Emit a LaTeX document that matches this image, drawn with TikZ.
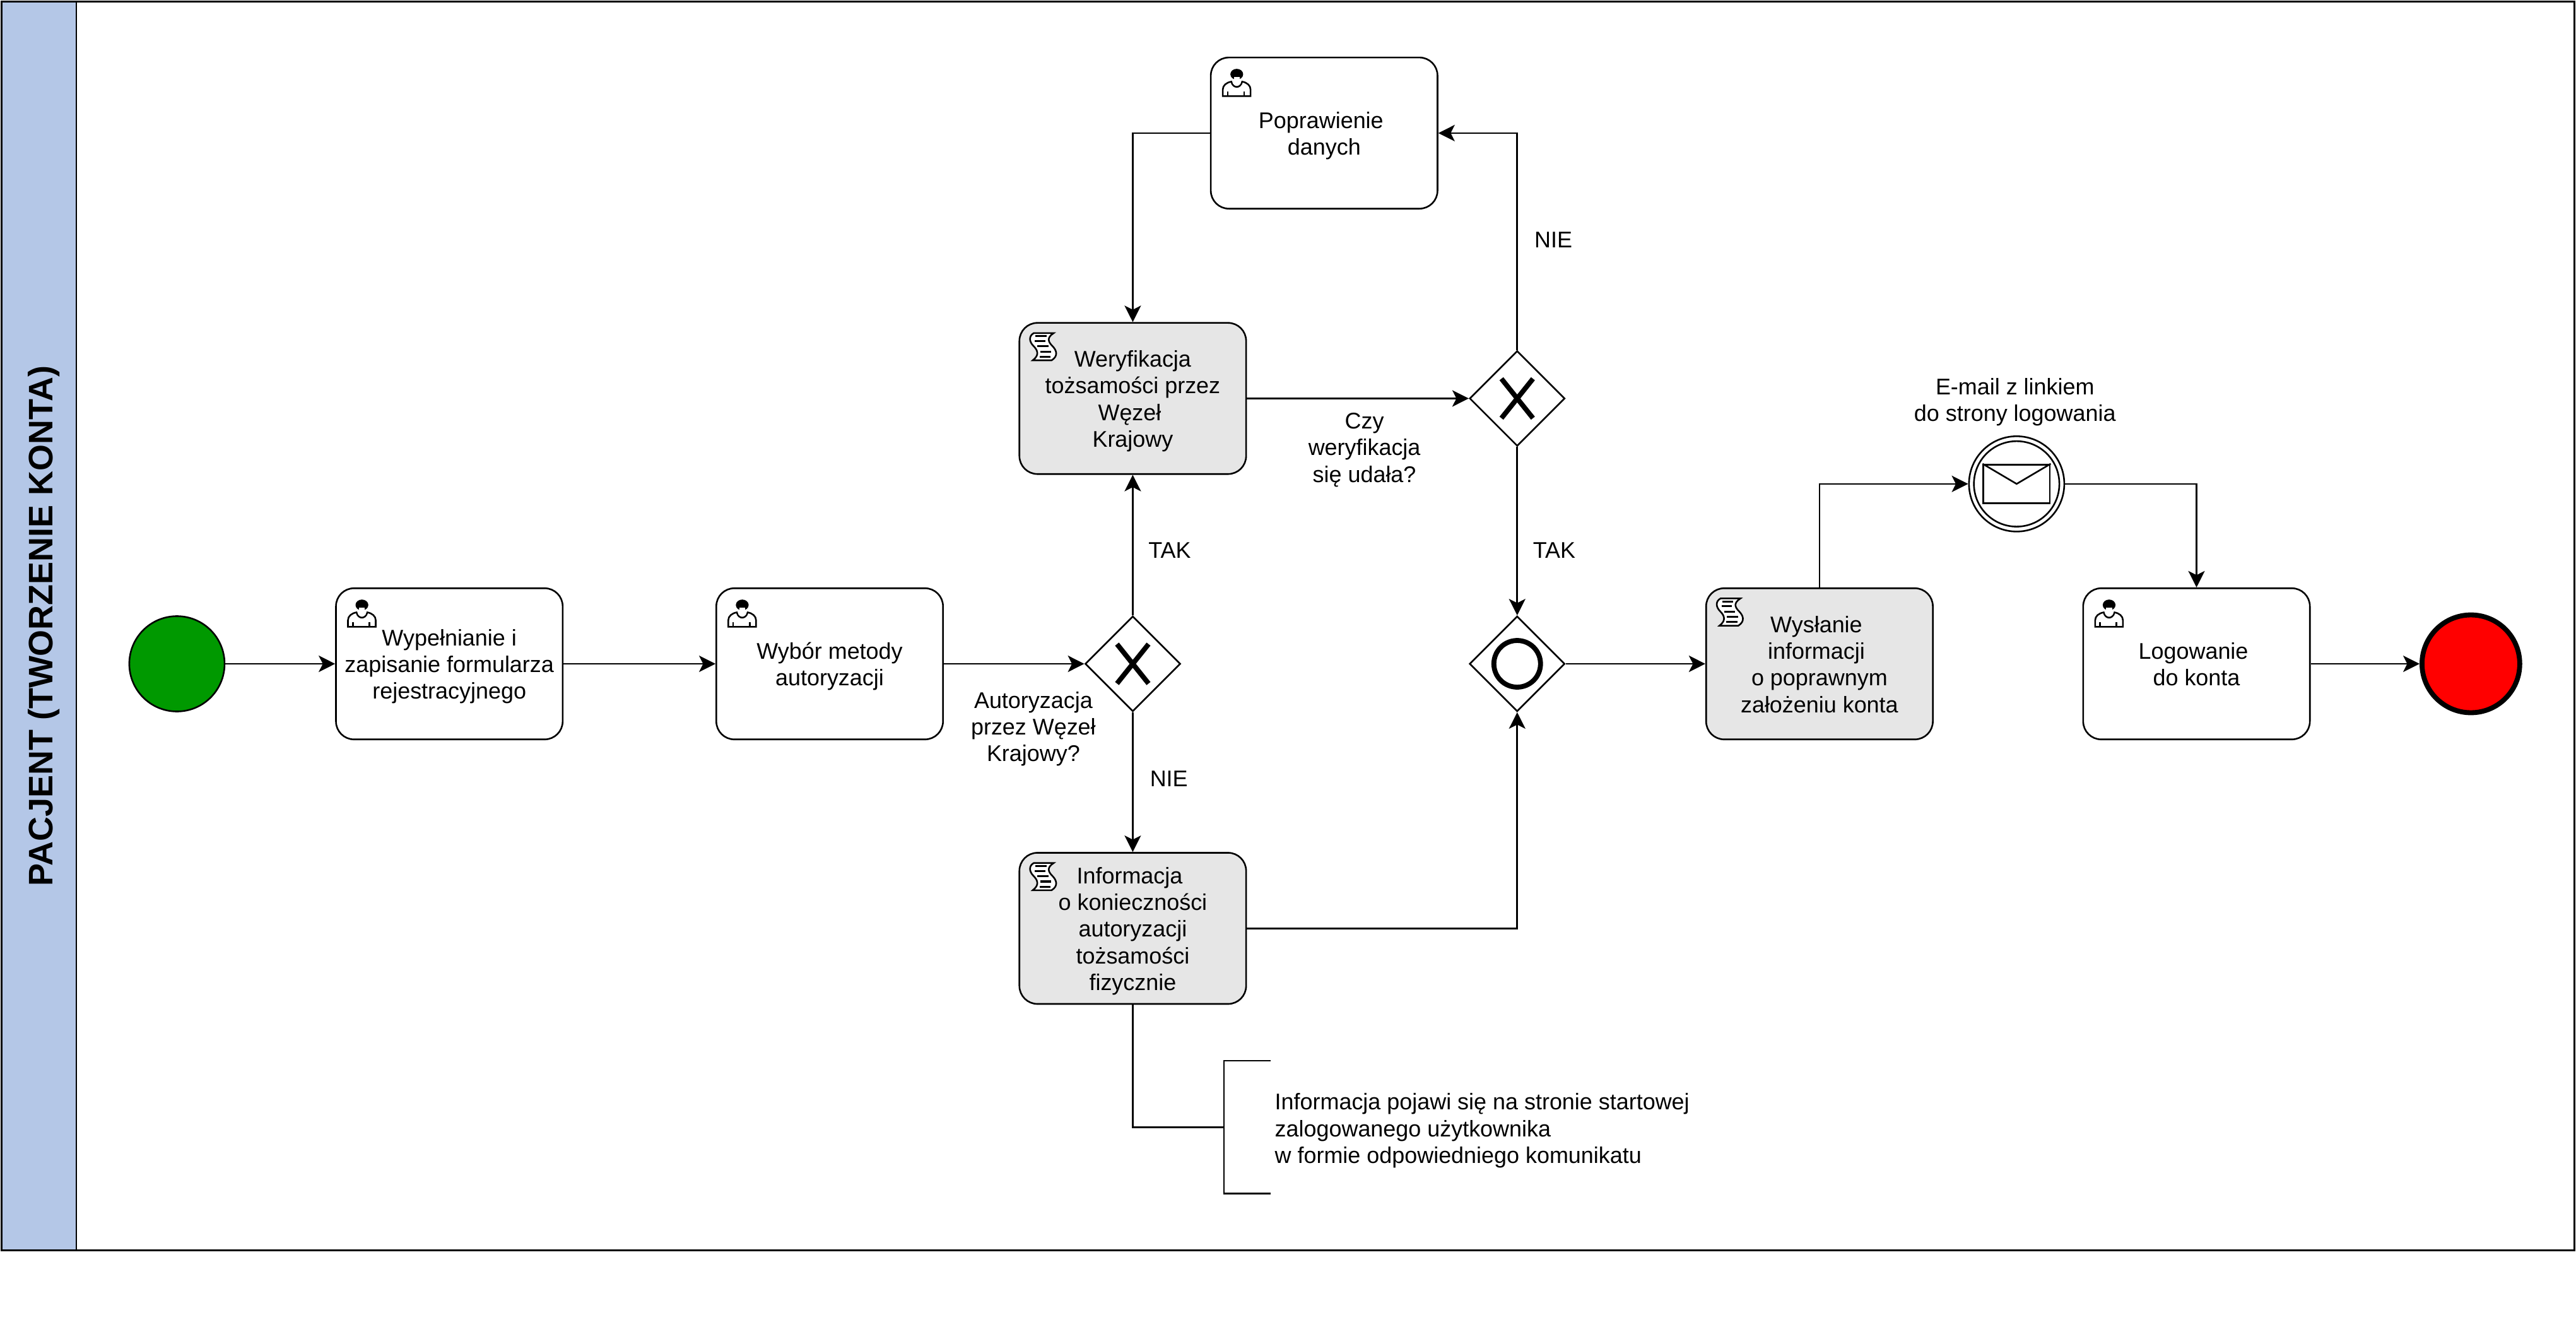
\documentclass[tikz,border=0pt]{standalone}
\usepackage{fontspec}
\setmainfont{Liberation Sans}
\usetikzlibrary{arrows.meta,shapes.geometric}
\newcommand{\trail}{\kern3.8pt}
\newcommand{\lines}[1]{\rule{0pt}{13.5pt}#1\rule[-3pt]{0pt}{3pt}}
\definecolor{lanecol}{HTML}{B4C7E7}
\definecolor{startcol}{HTML}{009900}
\definecolor{servicecol}{HTML}{E6E6E6}
\tikzset{
  lane/.style={draw,minimum width=1566pt,minimum height=760pt},
  lanehead/.style={draw,fill=lanecol,minimum width=760pt,minimum height=45.5pt,text height=16.5pt,text depth=0pt,font=\bfseries\fontsize{20.7}{24}\selectfont},
  usertask/.style={draw,rounded corners=11pt,minimum width=138pt,minimum height=92pt,inner sep=0pt,align=center},
  servicetask/.style={usertask,fill=servicecol},
  gateway/.style={draw,diamond,aspect=1,minimum width=58pt,minimum height=58pt,inner sep=0pt},
  startevent/.style={draw,circle,fill=startcol,minimum size=58pt,inner sep=0pt},
  endevent/.style={draw,circle,fill=red,line width=3pt,minimum size=59.5pt,inner sep=0pt},
  msgevent/.style={draw,circle,minimum size=58pt,inner sep=0pt},
  lbl/.style={inner sep=0pt,align=center},
  flow/.style={-{Stealth[length=10pt,width=10pt,inset=2.5pt]}},
  usericon/.pic={
    \draw[fill=white] (7.8,24) -- (7.8,20) .. controls (7.8,17.5) and (10,15.7) .. (13,15.2)
      .. controls (13.5,17.5) and (15,18.4) .. (16.3,18.4) .. controls (17.6,18.4) and (19,17.5) .. (19.6,15.2)
      .. controls (22.5,15.7) and (24.7,17.5) .. (24.7,20) -- (24.7,24) -- cycle;
    \draw (10.8,21.3) -- (10.8,24) (20.8,21.3) -- (20.8,24);
    \fill (16.3,10.7) ellipse (3.9pt and 3.3pt);
    \fill[white] (14.5,12.3) rectangle (18.1,15.6);
    \fill[white] (16.3,15.6) ellipse (2.5pt and 1.9pt);
  },
  scripticon/.pic={
    \draw[fill=white] (9.3,6.7) .. controls (6,8.5) and (6.5,12) .. (9,14.5)
      .. controls (11.5,17) and (13,20) .. (8.6,23.3) -- (20.1,23.3)
      .. controls (24.5,20.5) and (23,17) .. (20.5,14.5)
      .. controls (18,12) and (17,9.5) .. (21.4,6.7) -- cycle;
    \draw[line width=1.2pt] (10.2,8.6) -- (17,8.6) (9.9,11.5) -- (16.3,11.5) (11.4,14.7) -- (18.2,14.7)
      (13.1,18) -- (19.9,18) (12.7,21.1) -- (19.5,21.1);
  },
  xmark/.pic={
    \draw[line width=3pt] (-9.6,-12) -- (9.6,12) (-9.6,12) -- (9.6,-12);
  },
  omark/.pic={
    \draw[line width=3pt] (0,0) circle (14.2pt);
  }
}

\begin{document}
\begin{tikzpicture}[x=1pt,y=-1pt,line width=1pt,font=\fontsize{13.8}{16.25}\selectfont]
  \useasboundingbox (0,0) rectangle (1568,807.6);

  \node[lane] (lane) at (784,381) {};
  \node[lanehead,rotate=90] (head) at (23.75,381) {PACJENT (TWORZENIE KONTA)};

  % events
  \node[startevent] (start) at (107.7,404) {};
  \node[endevent] (end) at (1504,404) {};
  \node[msgevent] (msg) at (1227.5,294.5) {};
  \node[msgevent,minimum size=52pt] (msginner) at (1227.5,294.5) {};
  \node[draw,minimum width=40.5pt,minimum height=23.5pt,inner sep=0pt] (envelope) at (1227.5,294.5) {};
  \draw (envelope.north west) -- (envelope.center) -- (envelope.north east);

  % tasks
  \node[usertask] (fill) at (273.5,404) {\lines{Wypełnianie i\\zapisanie formularza\\rejestracyjnego}};
  \node[usertask] (choose) at (505,404) {\lines{Wybór metody\\autoryzacji}};
  \node[usertask] (correct) at (806,81) {\lines{Poprawienie\trail\\danych}};
  \node[servicetask] (verify) at (689.5,242.5) {\lines{Weryfikacja\\tożsamości przez\\Węzeł\trail\\Krajowy}};
  \node[servicetask] (inform) at (689.5,565) {\lines{Informacja\trail\\o konieczności\\autoryzacji\\tożsamości\\fizycznie}};
  \node[servicetask] (send) at (1107.5,404) {\lines{Wysłanie\trail\\informacji\trail\\o poprawnym\\założeniu konta}};
  \node[usertask] (login) at (1337,404) {\lines{Logowanie\trail\\do konta}};

  \pic at (fill.north west) {usericon};
  \pic at (choose.north west) {usericon};
  \pic at (correct.north west) {usericon};
  \pic at (login.north west) {usericon};
  \pic at (verify.north west) {scripticon};
  \pic at (inform.north west) {scripticon};
  \pic at (send.north west) {scripticon};

  % gateways
  \node[gateway] (gwauth) at (689.5,404) {};
  \node[gateway] (gwverify) at (923.5,242.5) {};
  \node[gateway] (gwor) at (923.5,404) {};
  \pic at (gwauth.center) {xmark};
  \pic at (gwverify.center) {xmark};
  \pic at (gwor.center) {omark};

  % flows
  \draw[flow] (start) -- (fill);
  \draw[flow] (fill) -- (choose);
  \draw[flow] (choose) -- (gwauth);
  \draw[flow] (gwauth) -- (verify);
  \draw[flow] (gwauth) -- (inform);
  \draw[flow] (verify) -- (gwverify);
  \draw[flow] (gwverify.north) |- (correct.east);
  \draw[flow] (correct.west) -| (verify.north);
  \draw[flow] (gwverify) -- (gwor);
  \draw[flow] (inform.east) -| (gwor.south);
  \draw[flow] (gwor) -- (send);
  \draw[flow] (send.north) |- (msg.west);
  \draw[flow] (msg.east) -| (login.north);
  \draw[flow] (login) -- (end);

  % labels
  \node[lbl] (tak1) at (712,335) {TAK};
  \node[lbl] (nie1) at (711.5,474) {NIE};
  \node[lbl] (nie2) at (945.5,146) {NIE};
  \node[lbl] (tak2) at (946,335) {TAK};
  \node[lbl] (qverify) at (830.5,272) {\lines{Czy\\weryfikacja\\się udała?}};
  \node[lbl] (qauth) at (629,442) {\lines{Autoryzacja\\przez Węzeł\\Krajowy?}};
  \node[lbl] (mailtxt) at (1226.5,243) {\lines{E-mail z linkiem\\do strony logowania}};

  % annotation
  \coordinate (brtop) at (773.5,645.5);
  \coordinate (brbot) at (773.5,726.5);
  \coordinate (brmid) at (745,686);
  \draw (brtop) -- (745,645.5) -- (745,726.5) -- (brbot);
  \draw (inform.south) |- (brmid);
  \node[lbl,anchor=west,align=left] (note) at (775.5,686.5) {\lines{Informacja pojawi się na stronie startowej\\zalogowanego użytkownika\\w formie odpowiedniego komunikatu}};
\end{tikzpicture}
\end{document}
